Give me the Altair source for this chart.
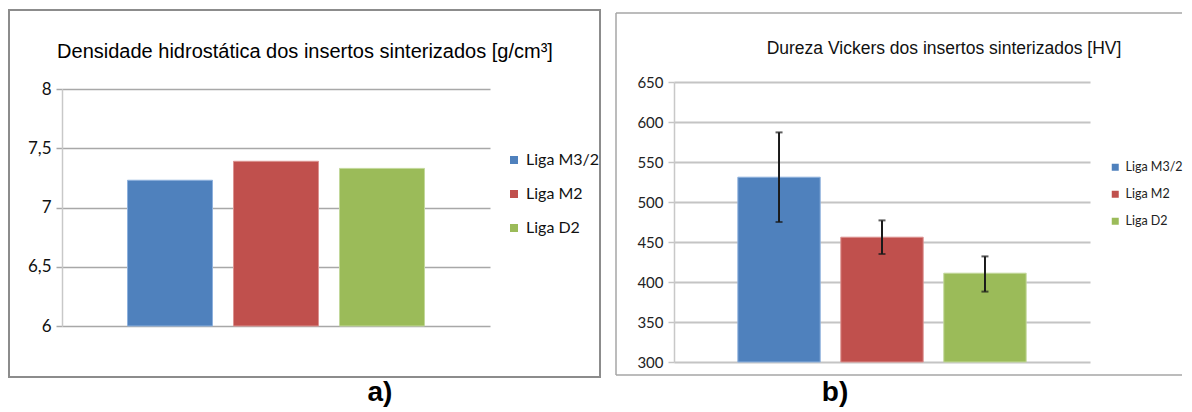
import altair as alt
import pandas as pd

series = ["Liga M3/2", "Liga M2", "Liga D2"]
density = [7.23, 7.39, 7.33]
hardness = [531, 456, 411]
hardness_low = [475, 435, 388]
hardness_high = [587, 477, 432]
fills = ["#4F81BD", "#C0504D", "#9BBB59"]
edges = ["#8EB1DD", "#DC9391", "#C2D89B"]
dens_ticks = [6, 6.5, 7, 7.5, 8]
hv_ticks = [300, 350, 400, 450, 500, 550, 600, 650]
title_a = "Densidade hidrostática dos insertos sinterizados [g/cm³]"
title_b = "Dureza Vickers dos insertos sinterizados [HV]"
label_a = "a)"
label_b = "b)"

CAL = "Lato, Carlito, Calibri, sans-serif"
ARIAL = "Liberation Sans, Arial, sans-serif"

df_a = pd.DataFrame({"series": series, "val": density})
df_b = pd.DataFrame({"series": series, "val": hardness,
                     "lo": hardness_low, "hi": hardness_high})
one = pd.DataFrame({"k": [0]})

color_scale = alt.Scale(domain=series, range=fills)
edge_scale = alt.Scale(domain=series, range=edges)

# ---------- panel a ----------
Wa, Ha = 428, 244
xa = alt.X("series:N", sort=series, axis=None,
           scale=alt.Scale(paddingInner=0.198, paddingOuter=0.618))
frame_a = alt.Chart(one).mark_rect(fill="transparent", stroke="#8C8C8C", strokeWidth=2).encode(
    x=alt.value(-53), x2=alt.value(538), y=alt.value(-72), y2=alt.value(295))
bars_a = alt.Chart(df_a).mark_bar(strokeWidth=1).encode(
    x=xa,
    y=alt.Y("val:Q", scale=alt.Scale(domain=[6, 8], zero=False, range=[Ha, 7]),
            axis=alt.Axis(values=dens_ticks, title=None, labelOverlap=False,
                          labelExpr="replace(toString(datum.value), '.', ',')",
                          grid=True, gridColor="#A8A8A8", gridWidth=1.5,
                          domainColor="#C8C8C8", domainWidth=1.5,
                          tickColor="#A8A8A8", tickWidth=1.5, tickSize=6,
                          labelFont=CAL, labelFontSize=17, labelColor="#111",
                          labelPadding=5)),
    y2=alt.datum(6),
    color=alt.Color("series:N", scale=color_scale,
                    legend=alt.Legend(orient="none", legendX=444, legendY=70, title=None,
                                      symbolType="square", symbolSize=64,
                                      symbolStrokeWidth=0, labelFont=CAL,
                                      labelFontSize=16, labelColor="#111",
                                      rowPadding=18, labelOffset=4, padding=0)),
    stroke=alt.Stroke("series:N", scale=edge_scale, legend=None),
)
tit_a = alt.Chart(one).mark_text(font=ARIAL, fontSize=20, color="#000",
                                 align="center", baseline="alphabetic").encode(
    x=alt.value(243), y=alt.value(-24), text=alt.value(title_a))
lab_a = alt.Chart(one).mark_text(font=ARIAL, fontSize=28, fontWeight="bold", color="#000",
                                 align="center", baseline="alphabetic").encode(
    x=alt.value(318), y=alt.value(319), text=alt.value(label_a))
panel_a = alt.layer(frame_a, bars_a, tit_a, lab_a).properties(width=Wa, height=Ha)

# ---------- panel b ----------
Wb, Hb = 416, 280
xb = alt.X("series:N", sort=series, axis=None,
           scale=alt.Scale(paddingInner=0.2, paddingOuter=0.62))
yscale_b = alt.Scale(domain=[300, 650], zero=False)
yaxis_b = alt.Axis(values=hv_ticks, title=None, labelOverlap=False,
                   grid=True, gridColor="#C4C4C4", gridWidth=1.8,
                   domainColor="#C8C8C8", domainWidth=1.5,
                   tickColor="#C4C4C4", tickWidth=1.5, tickSize=6,
                   labelFont=CAL, labelFontSize=15, labelColor="#222",
                   labelPadding=5)
top_b = alt.Chart(one).mark_rule(color="#A6A6A6", strokeWidth=1.5).encode(
    x=alt.value(-58), x2=alt.value(508), y=alt.value(-69))
bot_b = alt.Chart(one).mark_rule(color="#A6A6A6", strokeWidth=1.5).encode(
    x=alt.value(-58), x2=alt.value(508), y=alt.value(293))
left_b = alt.Chart(one).mark_rule(color="#A6A6A6", strokeWidth=1.5).encode(
    x=alt.value(-58), y=alt.value(-69), y2=alt.value(293))
bars_b = alt.Chart(df_b).mark_bar(strokeWidth=1).encode(
    x=xb,
    y=alt.Y("val:Q", scale=yscale_b, axis=yaxis_b),
    y2=alt.datum(300),
    color=alt.Color("series:N", scale=color_scale,
                    legend=alt.Legend(orient="none", legendX=435, legendY=79, title=None,
                                      symbolType="square", symbolSize=49,
                                      symbolStrokeWidth=0, labelFont=CAL,
                                      labelFontSize=12.5, labelColor="#222",
                                      rowPadding=14, labelOffset=4, padding=0)),
    stroke=alt.Stroke("series:N", scale=edge_scale, legend=None),
)
err = alt.Chart(df_b).mark_rule(color="#1A1A1A", strokeWidth=2).encode(
    x=xb, y=alt.Y("lo:Q", scale=yscale_b, axis=yaxis_b), y2="hi:Q")
cap_hi = alt.Chart(df_b).mark_tick(color="#1A1A1A", orient="horizontal", size=7, thickness=2).encode(
    x=xb, y=alt.Y("hi:Q", scale=yscale_b, axis=yaxis_b))
cap_lo = alt.Chart(df_b).mark_tick(color="#1A1A1A", orient="horizontal", size=7, thickness=2).encode(
    x=xb, y=alt.Y("lo:Q", scale=yscale_b, axis=yaxis_b))
tit_b = alt.Chart(one).mark_text(font=ARIAL, fontSize=17.5, color="#111",
                                 align="center", baseline="alphabetic").encode(
    x=alt.value(270), y=alt.value(-28), text=alt.value(title_b))
lab_b = alt.Chart(one).mark_text(font=ARIAL, fontSize=28, fontWeight="bold", color="#000",
                                 align="center", baseline="alphabetic").encode(
    x=alt.value(161), y=alt.value(319), text=alt.value(label_b))
panel_b = alt.layer(top_b, bot_b, left_b, bars_b, err, cap_hi, cap_lo, tit_b, lab_b).properties(
    width=Wb, height=Hb)

chart = alt.hconcat(panel_a, panel_b, spacing=14).resolve_scale(
    color="independent", stroke="independent").resolve_legend(
    color="independent").configure_view(stroke=None).properties(
    padding={"left": 0, "top": 1, "right": 0, "bottom": 0}, background="white")

chart.save("out.html", embed_options={"renderer": "svg", "actions": False})
